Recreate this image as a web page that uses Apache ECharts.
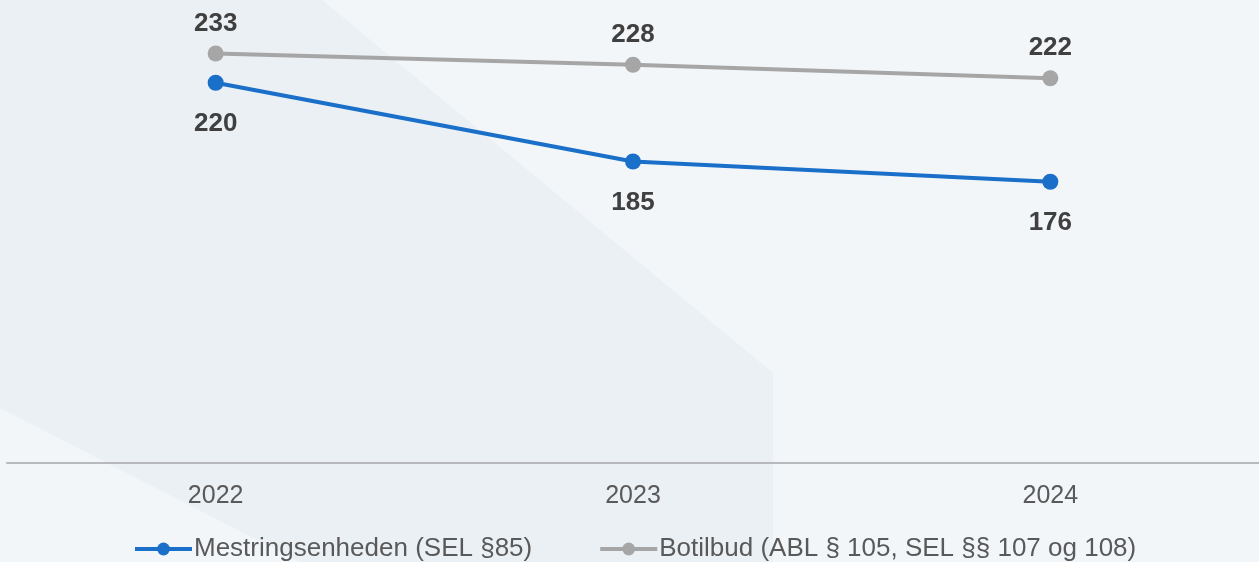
<!DOCTYPE html>
<html lang="da">
<head>
    <meta charset="UTF-8">
    <title>Mestringsenheden og botilbud</title>
    <script src="https://cdn.jsdelivr.net/npm/echarts@6/dist/echarts.min.js"></script>
    <style>
        html, body { margin: 0; padding: 0; background: #f3f6f9; }
        #main { width: 1259px; height: 562px; }
    </style>
</head>
<body>
<div id="main"></div>

<script type="text/javascript">
    // data
    var years = ['2022', '2023', '2024'];
    var mestring = [220, 185, 176];
    var botilbud = [233, 228, 222];
    var seriesNames = ['Mestringsenheden (SEL §85)', 'Botilbud (ABL § 105, SEL §§ 107 og 108)'];

    var fontName = "'Liberation Sans', Arial, sans-serif";

    var myChart = echarts.init(document.getElementById('main'));

    var option = {
        backgroundColor: '#f3f6f9',
        animation: false,
        // baggrundsfigurer
        graphic: [
            {
                type: 'polygon',
                z: -10,
                shape: { points: [[0, 0], [322, 0], [773, 373], [773, 562], [0, 562]] },
                style: { fill: '#ebf0f5' }
            },
            {
                type: 'polygon',
                z: -9,
                shape: { points: [[0, 408], [300, 562], [0, 562]] },
                style: { fill: '#f3f6f9' }
            }
        ],
        grid: {
            left: 7,
            right: 0,
            top: 13,
            bottom: 99
        },
        legend: {
            top: 531,
            left: 128,
            itemWidth: 57,
            itemHeight: 16,
            itemGap: 66,
            lineStyle: { width: 4 },
            textStyle: {
                color: '#595959',
                fontSize: 26,
                fontFamily: fontName,
                padding: [0, 0, 0, -3]
            },
            data: seriesNames
        },
        xAxis: {
            type: 'category',
            data: years,
            boundaryGap: true,
            axisLine: { lineStyle: { color: '#b7b9bc', width: 2 } },
            axisTick: { show: false },
            axisLabel: {
                color: '#595959',
                fontSize: 25,
                fontFamily: fontName,
                margin: 21
            }
        },
        yAxis: {
            type: 'value',
            min: 51,
            max: 251,
            show: false,
            splitLine: { show: false }
        },
        series: [
            {
                name: seriesNames[0],
                type: 'line',
                data: mestring,
                symbol: 'circle',
                symbolSize: 16,
                color: '#1a6fc9',
                lineStyle: { width: 4, color: '#1a6fc9' },
                label: {
                    show: true,
                    position: 'bottom',
                    distance: 20,
                    color: '#404040',
                    fontWeight: 'bold',
                    fontSize: 26,
                    fontFamily: fontName
                }
            },
            {
                name: seriesNames[1],
                type: 'line',
                data: botilbud,
                symbol: 'circle',
                symbolSize: 16,
                color: '#a6a6a6',
                lineStyle: { width: 4, color: '#a6a6a6' },
                label: {
                    show: true,
                    position: 'top',
                    distance: 9,
                    color: '#404040',
                    fontWeight: 'bold',
                    fontSize: 26,
                    fontFamily: fontName
                }
            }
        ]
    };

    myChart.setOption(option);
</script>
</body>
</html>
